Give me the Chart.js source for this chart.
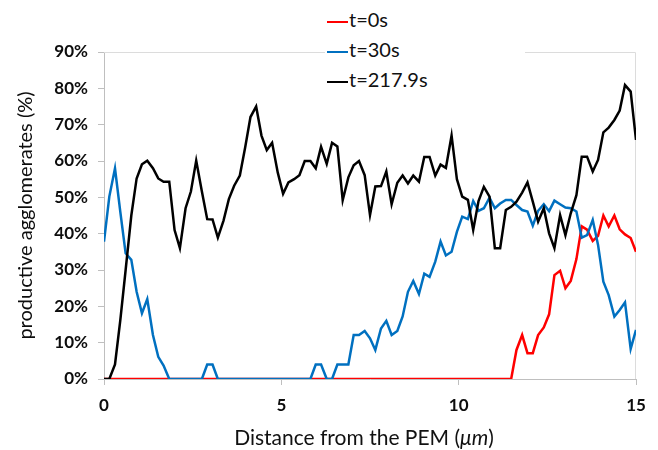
<!DOCTYPE html>
<html>
<head>
<meta charset="utf-8">
<title>Productive agglomerates vs distance from the PEM</title>
<script src="https://cdn.jsdelivr.net/npm/chart.js@4.4.1/dist/chart.umd.min.js"></script>
<style>
  html, body { margin: 0; padding: 0; background: #fff; }
  #wrap { position: relative; width: 658px; height: 450px; font-family: Lato, "Open Sans", sans-serif; }
  #legend { position: absolute; left: 325px; top: 4px; width: 200px; height: 92px; background: #fff; }
  #legend .item { position: absolute; left: 0; height: 30px; display: flex; align-items: center; font-size: 20px; color: #111; }
  #legend .swatch { width: 21px; height: 2.5px; margin-left: 2px; margin-right: 1px; position: relative; top: 3px; }
  #xtitle { position: absolute; left: 104px; width: 520px; top: 424px; text-align: center; font-size: 21px; color: #111; }
</style>
</head>
<body>
<div id="wrap">
  <canvas id="chart" width="658" height="450"></canvas>
  <div id="legend"></div>
  <div id="xtitle">Distance from the PEM (<i>μm</i>)</div>
</div>
<script>
// sample positions along the profile (µm)
const distance = [
  0, 0.15, 0.31, 0.46, 0.61, 0.77, 0.92, 1.07, 1.22, 1.38,
  1.53, 1.68, 1.84, 1.99, 2.14, 2.30, 2.45, 2.60, 2.76, 2.91,
  3.06, 3.21, 3.37, 3.52, 3.67, 3.83, 3.98, 4.13, 4.29, 4.44,
  4.59, 4.74, 4.90, 5.05, 5.20, 5.36, 5.51, 5.66, 5.82, 5.97,
  6.12, 6.28, 6.43, 6.58, 6.73, 6.89, 7.04, 7.19, 7.35, 7.50,
  7.65, 7.81, 7.96, 8.11, 8.27, 8.42, 8.57, 8.72, 8.88, 9.03,
  9.18, 9.34, 9.49, 9.64, 9.80, 9.95, 10.10, 10.26, 10.41, 10.56,
  10.71, 10.87, 11.02, 11.17, 11.33, 11.48, 11.63, 11.79, 11.94, 12.09,
  12.24, 12.40, 12.55, 12.70, 12.86, 13.01, 13.16, 13.32, 13.47, 13.62,
  13.78, 13.93, 14.08, 14.23, 14.39, 14.54, 14.69, 14.85, 15.00
];

// productive agglomerates (%) for each time
const t0 = [
  0, 0, 0, 0, 0, 0, 0, 0, 0, 0,
  0, 0, 0, 0, 0, 0, 0, 0, 0, 0,
  0, 0, 0, 0, 0, 0, 0, 0, 0, 0,
  0, 0, 0, 0, 0, 0, 0, 0, 0, 0,
  0, 0, 0, 0, 0, 0, 0, 0, 0, 0,
  0, 0, 0, 0, 0, 0, 0, 0, 0, 0,
  0, 0, 0, 0, 0, 0, 0, 0, 0, 0,
  0, 0, 0, 0, 0, 0, 8.0, 12.1, 7.1, 7.1,
  12.1, 14.2, 17.8, 28.6, 29.8, 25.0, 27.0, 33.0, 42.0, 41.1,
  38.0, 39.4, 45.0, 42.0, 45.0, 41.2, 39.8, 38.8, 35.0
];

const t30 = [
  37.8, 50.2, 58.0, 46.0, 34.6, 32.8, 24.0, 18.1, 22.0, 12.1,
  6.1, 3.7, 0, 0, 0, 0, 0, 0, 0, 4,
  4, 0, 0, 0, 0, 0, 0, 0, 0, 0,
  0, 0, 0, 0, 0, 0, 0, 0, 0, 4,
  4, 0, 0, 4, 4, 4, 12.1, 12.1, 13.2, 11.2,
  8.0, 13.9, 16.0, 12.1, 13.2, 17.2, 24.0, 27.0, 23.4, 29.0,
  28.1, 32.3, 37.8, 34.0, 35.0, 40.5, 44.7, 44.0, 49.0, 46.3,
  47.0, 49.9, 47.0, 48.3, 49.3, 49.3, 47.9, 46.5, 46.1, 42.2,
  46.3, 48.1, 46.2, 49.1, 48.1, 47.2, 47.0, 46.1, 38.9, 39.6,
  43.8, 36.9, 26.8, 23.1, 17.2, 19.0, 21.1, 8.3, 13.5
];

const t217 = [
  0, 0, 4.0, 16.2, 30.0, 45.0, 55.2, 59.1, 60.1, 58.0,
  55.2, 54.3, 54.3, 41.0, 36.0, 47.0, 51.6, 60.1, 51.6, 44.0,
  43.9, 38.9, 43.6, 49.5, 53.2, 56.0, 63.7, 72.1, 75.0, 67.0,
  63.0, 65.0, 56.8, 51.0, 54.1, 55.0, 56.1, 60.0, 60.0, 58.0,
  63.9, 59.2, 65.0, 64.0, 49.2, 55.5, 58.8, 60.0, 56.1, 45.1,
  53.0, 53.1, 57.1, 48.1, 54.0, 56.0, 53.8, 56.0, 54.3, 61.1,
  61.1, 56.0, 59.0, 58.1, 67.0, 55.0, 50.2, 49.3, 41.0, 49.0,
  52.9, 50.2, 36.0, 36.0, 46.5, 47.4, 48.8, 51.3, 54.1, 48.8,
  43.3, 47.0, 40.1, 36.0, 45.1, 39.6, 45.6, 50.6, 61.2, 61.2,
  57.1, 60.3, 67.9, 69.2, 71.3, 73.9, 80.9, 79.1, 65.8
];

const seriesLabels = ['t=0s', 't=30s', 't=217.9s'];
const seriesColors = ['#ff0000', '#0070c0', '#000000'];
const seriesValues = [t0, t30, t217];
const xTicks = [0, 5, 10, 15];

const axisGray = '#bfbfbf';
const textColor = '#0d0d0d';

// light frame on top and right of the plot, like the original sheet chart
const framePlugin = {
  id: 'frame',
  beforeDatasetsDraw(chart) {
    const { ctx, chartArea: a } = chart;
    ctx.save();
    ctx.strokeStyle = '#dcdcdc';
    ctx.lineWidth = 1;
    ctx.beginPath();
    ctx.moveTo(a.left, a.top + 0.5);
    ctx.lineTo(a.right - 0.5, a.top + 0.5);
    ctx.lineTo(a.right - 0.5, a.bottom);
    ctx.stroke();
    ctx.restore();
  }
};

const datasets = seriesValues.map((vals, i) => ({
  label: seriesLabels[i],
  data: distance.map((d, j) => ({ x: d, y: vals[j] })),
  borderColor: seriesColors[i],
  backgroundColor: seriesColors[i],
  borderWidth: 2.5,
  pointRadius: 0,
  tension: 0,
  order: 3 - i   // later series drawn on top
}));

new Chart(document.getElementById('chart'), {
  type: 'line',
  data: { datasets },
  options: {
    responsive: false,
    animation: false,
    layout: { padding: { top: 52, right: 22, bottom: 0, left: 0 } },
    plugins: {
      legend: { display: false },
      tooltip: { enabled: false }
    },
    scales: {
      x: {
        type: 'linear',
        min: 0,
        max: 15,
        afterBuildTicks: s => { s.ticks = xTicks.map(v => ({ value: v })); },
        afterFit: s => { s.height = 71; },
        ticks: {
          color: textColor,
          padding: 10,
          maxRotation: 0,
          font: { family: 'Lato', size: 17, weight: 'bold' }
        },
        grid: { drawOnChartArea: false, tickLength: 6, color: axisGray },
        border: { color: axisGray }
      },
      y: {
        min: 0,
        max: 90,
        afterFit: s => { s.width = 104; },
        ticks: {
          stepSize: 10,
          color: textColor,
          padding: 10,
          callback: v => v + '%',
          font: { family: 'Lato', size: 17, weight: 'bold' }
        },
        grid: { drawOnChartArea: false, tickLength: 6, color: axisGray },
        border: { color: axisGray },
        title: {
          display: true,
          text: 'productive agglomerates (%)',
          color: textColor,
          padding: { top: 14, bottom: 0 },
          font: { family: 'Lato', size: 20 }
        }
      }
    }
  },
  plugins: [framePlugin]
});

// stacked legend, drawn over the top edge of the plot
const legend = document.getElementById('legend');
seriesLabels.forEach((name, i) => {
  const item = document.createElement('div');
  item.className = 'item';
  item.style.top = (i * 30) + 'px';
  const sw = document.createElement('span');
  sw.className = 'swatch';
  sw.style.background = seriesColors[i];
  const txt = document.createElement('span');
  txt.textContent = name;
  item.appendChild(sw);
  item.appendChild(txt);
  legend.appendChild(item);
});
</script>
</body>
</html>
